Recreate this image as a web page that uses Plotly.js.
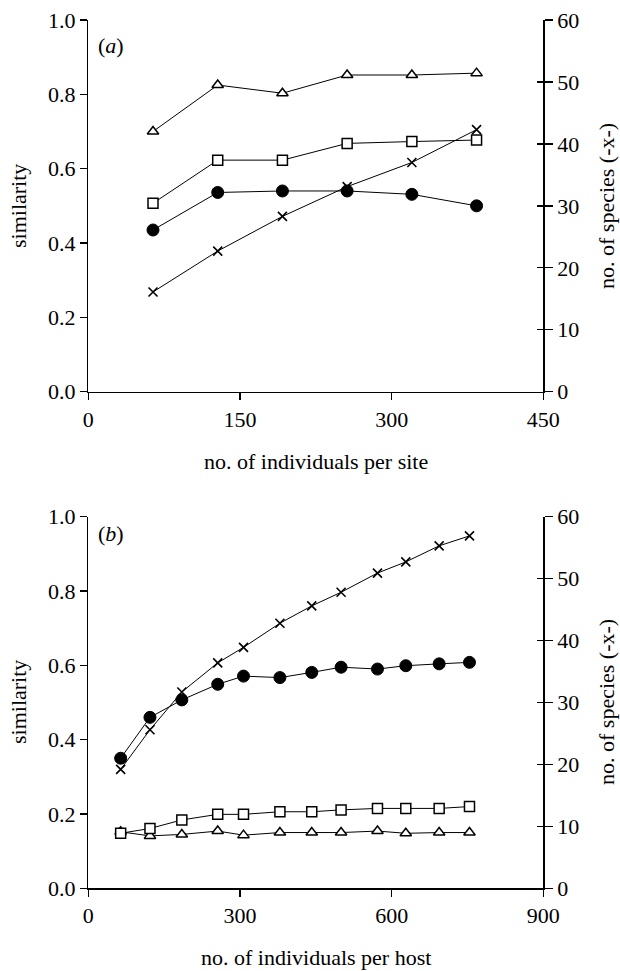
<!DOCTYPE html>
<html>
<head>
<meta charset="utf-8">
<script src="https://cdn.plot.ly/plotly-3.0.1.min.js"></script>
<style>html,body{margin:0;padding:0;background:#fff;}#chart{width:620px;height:971px;}</style>
</head>
<body>
<div id="chart"></div>
<script>
// Panel (a): per site
const xA = [64, 128, 192, 256, 320, 384];
const triA = [0.700, 0.825, 0.803, 0.852, 0.852, 0.857];
const sqA = [0.507, 0.623, 0.623, 0.668, 0.673, 0.677];
const cirA = [0.435, 0.536, 0.540, 0.540, 0.531, 0.500];
const spA = [16.1, 22.7, 28.3, 33.1, 37.0, 42.3];

// Panel (b): per host
const xB = [64, 122, 185, 256, 307, 379, 442, 500, 572, 628, 694, 754];
const cirB = [0.350, 0.460, 0.507, 0.549, 0.571, 0.567, 0.581, 0.595, 0.590, 0.599, 0.604, 0.608];
const spB = [19.2, 25.6, 31.7, 36.4, 38.9, 42.8, 45.6, 47.8, 50.9, 52.7, 55.3, 56.9];
const sqB = [0.148, 0.161, 0.184, 0.199, 0.199, 0.206, 0.206, 0.211, 0.215, 0.215, 0.215, 0.220];
const triB = [0.152, 0.141, 0.145, 0.154, 0.143, 0.150, 0.150, 0.150, 0.154, 0.148, 0.150, 0.150];

const simTicks = [0, 0.2, 0.4, 0.6, 0.8, 1.0];
const simTickText = ['0.0', '0.2', '0.4', '0.6', '0.8', '1.0'];
const spTicks = [0, 10, 20, 30, 40, 50, 60];

const FONT = "'Liberation Serif', 'DejaVu Serif', serif";
const W = 620, H = 971;
const px = v => v / W;
const py = v => 1 - v / H;

function line(x, y, xa, ya, symbol, size, fill, lw) {
  return {
    x: x, y: y, xaxis: xa, yaxis: ya, type: 'scatter', mode: 'lines+markers',
    line: {color: 'black', width: 1},
    marker: {symbol: symbol, size: size, color: fill, line: {color: 'black', width: lw}},
    showlegend: false, hoverinfo: 'skip', cliponaxis: false
  };
}

const traces = [
  line(xA, triA, 'x', 'y', 'triangle-up', 10, 'white', 1.5),
  line(xA, sqA, 'x', 'y', 'square', 10, 'white', 1.5),
  line(xA, cirA, 'x', 'y', 'circle', 12, 'black', 1),
  line(xA, spA, 'x', 'y2', 'x-thin-open', 9, 'black', 1.6),
  line(xB, triB, 'x2', 'y3', 'triangle-up', 10, 'white', 1.5),
  line(xB, sqB, 'x2', 'y3', 'square', 10, 'white', 1.5),
  line(xB, cirB, 'x2', 'y3', 'circle', 12, 'black', 1),
  line(xB, spB, 'x2', 'y4', 'x-thin-open', 9, 'black', 1.6)
];

const xDom = [px(88.3), px(543.3)];
const yDomA = [py(391.7), py(20)];
const yDomB = [py(888.3), py(516.7)];

const tickFont = {family: FONT, size: 22, color: 'black'};

function xAxis(anchor, range, dtick) {
  return {domain: xDom, anchor: anchor, range: range, dtick: dtick, tick0: 0,
    showgrid: false, zeroline: false, showline: true, linecolor: 'black', linewidth: 1.5,
    ticks: 'outside', ticklen: 7, tickwidth: 1.3, tickcolor: 'black',
    tickfont: tickFont, fixedrange: true};
}
function yLeft(anchor, dom) {
  return {domain: dom, anchor: anchor, range: [0, 1], tickvals: simTicks, ticktext: simTickText,
    showgrid: false, zeroline: false, showline: true, linecolor: 'black', linewidth: 1.5,
    ticks: 'outside', ticklen: 7, tickwidth: 1.3, tickcolor: 'black',
    tickfont: tickFont, fixedrange: true};
}
function yRight(anchor, over) {
  return {overlaying: over, anchor: anchor, side: 'right', range: [0, 60], tickvals: spTicks,
    showgrid: false, zeroline: false, showline: true, linecolor: 'black', linewidth: 1.5,
    ticks: 'outside', ticklen: 8, tickwidth: 1.3, tickcolor: 'black',
    tickfont: tickFont, fixedrange: true};
}
function yRightInner(anchor, over) {
  return {overlaying: over, anchor: anchor, side: 'right', range: [0, 60], tickvals: spTicks,
    showgrid: false, zeroline: false, showline: false, showticklabels: false,
    ticks: 'inside', ticklen: 6, tickwidth: 1.3, tickcolor: 'black', fixedrange: true};
}

const annFont = {family: FONT, size: 22, color: 'black'};
function ann(text, x, y, angle, xanchor) {
  return {text: text, x: x, y: y, xref: 'paper', yref: 'paper', showarrow: false,
    textangle: angle || 0, xanchor: xanchor || 'center', yanchor: 'middle', font: annFont};
}

const layout = {
  width: W, height: H, margin: {l: 0, r: 0, t: 0, b: 0},
  paper_bgcolor: 'white', plot_bgcolor: 'rgba(0,0,0,0)',
  font: {family: FONT, size: 22, color: 'black'},
  xaxis: xAxis('y', [0, 450], 150),
  yaxis: yLeft('x', yDomA),
  yaxis2: yRight('x', 'y'),
  yaxis5: yRightInner('x', 'y'),
  xaxis2: xAxis('y3', [0, 900], 300),
  yaxis3: yLeft('x2', yDomB),
  yaxis4: yRight('x2', 'y3'),
  yaxis6: yRightInner('x2', 'y3'),
  annotations: [
    ann('(<i>a</i>)', px(96), py(45), 0, 'left'),
    ann('(<i>b</i>)', px(96), py(533), 0, 'left'),
    ann('similarity', px(18), py(206), -90),
    ann('similarity', px(18), py(702), -90),
    ann('no. of species (-x-)', px(606), py(206), -90),
    ann('no. of species (-x-)', px(606), py(702), -90),
    ann('no. of individuals per site', (xDom[0] + xDom[1]) / 2, py(462)),
    ann('no. of individuals per host', (xDom[0] + xDom[1]) / 2, py(957))
  ]
};

traces.push({x: [], y: [], xaxis: 'x', yaxis: 'y5', type: 'scatter', showlegend: false});
traces.push({x: [], y: [], xaxis: 'x2', yaxis: 'y6', type: 'scatter', showlegend: false});

Plotly.newPlot('chart', traces, layout, {displayModeBar: false, staticPlot: true});
</script>
</body>
</html>
